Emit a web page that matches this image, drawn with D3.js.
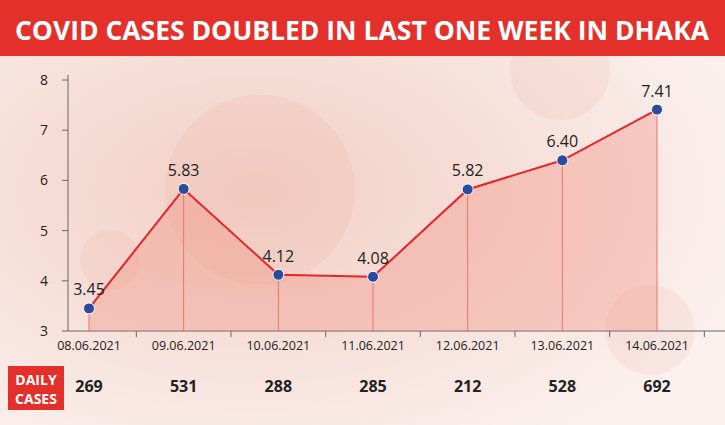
<!DOCTYPE html>
<html><head><meta charset="utf-8">
<script src="https://cdn.jsdelivr.net/npm/d3@7"></script>
<style>body{margin:0}svg{display:block;font-family:"Open Sans","Noto Sans",sans-serif}</style>
</head><body><svg id="c" width="725" height="425"></svg>
<script>
var dates = ["08.06.2021","09.06.2021","10.06.2021","11.06.2021","12.06.2021","13.06.2021","14.06.2021"];
var rates = [3.45, 5.83, 4.12, 4.08, 5.82, 6.40, 7.41];
var daily = [269, 531, 288, 285, 212, 528, 692];
var yTicks = [3, 4, 5, 6, 7, 8];

var svg = d3.select("#c");
// background
var bg = svg.append("defs").append("radialGradient").attr("id","bg").attr("cx","0.35").attr("cy","0.45").attr("r","0.7");
bg.append("stop").attr("offset","0").attr("stop-color","#f2cfc4");
bg.append("stop").attr("offset","1").attr("stop-color","#fbf0ee");
svg.append("rect").attr("width",725).attr("height",425).attr("fill","url(#bg)");
// faint virus blobs
[[260,190,95],[560,70,50],[650,330,45],[110,260,30]].forEach(function(b){
  svg.append("circle").attr("cx",b[0]).attr("cy",b[1]).attr("r",b[2]).attr("fill","#e8a898").attr("opacity",0.15);
});

svg.append("rect").attr("width",725).attr("height",56).attr("fill","#e4302a");
svg.append("text").attr("x",362).attr("y",40).attr("text-anchor","middle").attr("fill","#fff")
  .attr("font-size",26.5).attr("font-weight","bold").text("COVID CASES DOUBLED IN LAST ONE WEEK IN DHAKA");

var x = d3.scalePoint().domain(dates).range([89, 657]);
var step = x.step();
var y = d3.scaleLinear().domain([3, 8]).range([331, 80]);

// axes
svg.append("line").attr("x1",68).attr("x2",68).attr("y1",75).attr("y2",331).attr("stroke","#666");
svg.append("line").attr("x1",68).attr("x2",725).attr("y1",331).attr("y2",331).attr("stroke","#666");
yTicks.forEach(function(t){
  svg.append("line").attr("x1",62).attr("x2",68).attr("y1",y(t)).attr("y2",y(t)).attr("stroke","#666");
  svg.append("text").attr("x",44).attr("y",y(t)+5).attr("text-anchor","middle").attr("font-size",14).attr("fill","#222").text(t);
});
dates.forEach(function(d){
  svg.append("line").attr("x1",x(d)+step/2).attr("x2",x(d)+step/2).attr("y1",331).attr("y2",337).attr("stroke","#666");
  svg.append("text").attr("x",x(d)).attr("y",350).attr("text-anchor","middle").attr("font-size",12.5).attr("fill","#222").text(d);
});

var pts = dates.map(function(d,i){return {d:d, v:rates[i], n:daily[i]};});
svg.append("path").datum(pts)
  .attr("d", d3.area().x(function(p){return x(p.d);}).y0(331).y1(function(p){return y(p.v);}))
  .attr("fill","#f08a78").attr("opacity",0.35);
svg.selectAll(".drop").data(pts).enter().append("line")
  .attr("x1",function(p){return x(p.d);}).attr("x2",function(p){return x(p.d);})
  .attr("y1",function(p){return y(p.v);}).attr("y2",331).attr("stroke","#e8605a").attr("stroke-width",0.8);
svg.append("path").datum(pts)
  .attr("d", d3.line().x(function(p){return x(p.d);}).y(function(p){return y(p.v);}))
  .attr("fill","none").attr("stroke","#e8242a").attr("stroke-width",2);
svg.selectAll(".pt").data(pts).enter().append("circle")
  .attr("cx",function(p){return x(p.d);}).attr("cy",function(p){return y(p.v);}).attr("r",5.5)
  .attr("fill","#2b4aa0").attr("stroke","#fff").attr("stroke-width",1);
svg.selectAll(".lbl").data(pts).enter().append("text")
  .attr("x",function(p){return x(p.d);}).attr("y",function(p){return y(p.v)-13;})
  .attr("text-anchor","middle").attr("font-size",16).attr("fill","#222")
  .text(function(p){return p.v.toFixed(2);});

// daily cases row
svg.append("rect").attr("x",8).attr("y",366).attr("width",56).attr("height",44).attr("fill","#e4302a");
svg.append("text").attr("x",36).attr("y",385).attr("text-anchor","middle").attr("fill","#fff").attr("font-size",14).attr("font-weight","bold").text("DAILY");
svg.append("text").attr("x",36).attr("y",404).attr("text-anchor","middle").attr("fill","#fff").attr("font-size",14).attr("font-weight","bold").text("CASES");
svg.selectAll(".dc").data(pts).enter().append("text")
  .attr("x",function(p){return x(p.d);}).attr("y",392).attr("text-anchor","middle")
  .attr("font-size",16).attr("font-weight","bold").attr("fill","#222").text(function(p){return p.n;});
</script></body></html>
